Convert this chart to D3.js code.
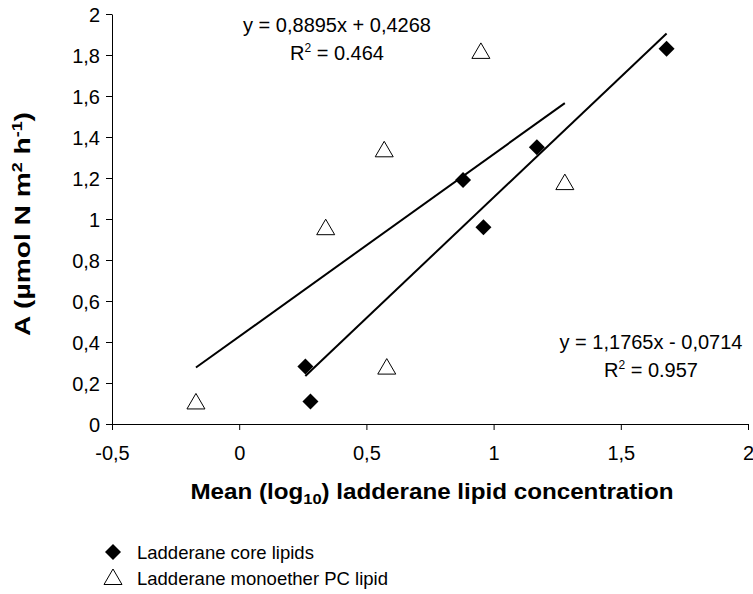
<!DOCTYPE html>
<html>
<head>
<meta charset="utf-8">
<script src="https://cdn.jsdelivr.net/npm/d3@7"></script>
<style>
  html, body { margin: 0; padding: 0; background: #fff; }
  svg { display: block; font-family: "Liberation Sans", Arial, sans-serif; }
</style>
</head>
<body>
<svg id="chart" width="753" height="594"></svg>
<script>
// Ladderane core lipids: mean log10 concentration vs. A
const coreX = [0.26, 0.28, 0.88, 0.96, 1.17, 1.68];
const coreY = [0.28, 0.11, 1.19, 0.96, 1.35, 1.83];
// Ladderane monoether PC lipid
const pcX = [-0.17, 0.34, 0.57, 0.58, 0.95, 1.28];
const pcY = [0.11, 0.96, 1.34, 0.28, 1.82, 1.18];

// Linear trendline coefficients (slope, intercept) and R²
const coreFit = [1.1765, -0.0714];
const coreR2 = "0.957";
const pcFit = [0.8895, 0.4268];
const pcR2 = "0.464";

const xTicks = [-0.5, 0, 0.5, 1, 1.5, 2];
const yTicks = [0, 0.2, 0.4, 0.6, 0.8, 1, 1.2, 1.4, 1.6, 1.8, 2];

const seriesNames = ["Ladderane core lipids", "Ladderane monoether PC lipid"];

const svg = d3.select("#chart");
const x = d3.scaleLinear().domain([-0.5, 2]).range([112, 748]);
const y = d3.scaleLinear().domain([0, 2]).range([424, 14]);

const locale = d3.formatLocale({ decimal: ",", thousands: ".", grouping: [3], currency: ["", ""], minus: "-" });
const fmt = locale.format("~g");
const fmtCoef = v => locale.format(".4f")(Math.abs(v));

// Axes
const xAxis = svg.append("g")
  .attr("transform", `translate(0,${y(0)})`)
  .call(d3.axisBottom(x).tickValues(xTicks).tickFormat(fmt).tickSize(6).tickSizeOuter(0));
const yAxis = svg.append("g")
  .attr("transform", `translate(${x(-0.5)},0)`)
  .call(d3.axisLeft(y).tickValues(yTicks).tickFormat(fmt).tickSize(6).tickSizeOuter(0));

[xAxis, yAxis].forEach(g => {
  g.select(".domain").attr("stroke", "#000").attr("stroke-width", 1);
  g.selectAll(".tick line").attr("stroke", "#000");
  g.selectAll(".tick text")
    .attr("fill", "#000")
    .style("font-size", "20px")
    .style("font-family", "'Liberation Sans', Arial, sans-serif");
});
xAxis.selectAll(".tick text").attr("y", 36).attr("dy", null);
yAxis.selectAll(".tick text").attr("x", -12).attr("dy", "0.35em");

// Trendlines across each series' x range
function trend(xs, fit) {
  const [x0, x1] = d3.extent(xs);
  return [[x0, fit[0] * x0 + fit[1]], [x1, fit[0] * x1 + fit[1]]];
}
const line = d3.line().x(d => x(d[0])).y(d => y(d[1]));
svg.append("path").datum(trend(pcX, pcFit))
  .attr("d", line).attr("fill", "none").attr("stroke", "#000").attr("stroke-width", 2);
svg.append("path").datum(trend(coreX, coreFit))
  .attr("d", line).attr("fill", "none").attr("stroke", "#000").attr("stroke-width", 2);

// Marker shapes
const diamondPath = "M0,-8L8,0L0,8L-8,0Z";
const trianglePath = "M0,-8L9,7.5L-9,7.5Z";

svg.append("g").selectAll("path")
  .data(d3.zip(pcX, pcY))
  .join("path")
  .attr("d", trianglePath)
  .attr("transform", d => `translate(${x(d[0])},${y(d[1])})`)
  .attr("fill", "#fff").attr("stroke", "#000").attr("stroke-width", 1);

svg.append("g").selectAll("path")
  .data(d3.zip(coreX, coreY))
  .join("path")
  .attr("d", diamondPath)
  .attr("transform", d => `translate(${x(d[0])},${y(d[1])})`)
  .attr("fill", "#000");

// Trendline equations
function equation(fit, r2, cx, by) {
  const sign = fit[1] < 0 ? " - " : " + ";
  const g = svg.append("g").style("font-size", "20px").attr("fill", "#000");
  g.append("text").attr("x", cx).attr("y", by).attr("text-anchor", "middle")
    .text(`y = ${fmtCoef(fit[0])}x${sign}${fmtCoef(fit[1])}`);
  const t = g.append("text").attr("x", cx).attr("y", by + 28).attr("text-anchor", "middle");
  t.append("tspan").text("R");
  t.append("tspan").attr("dy", -8).style("font-size", "12px").text("2");
  t.append("tspan").attr("dy", 8).text(` = ${r2}`);
}
equation(pcFit, pcR2, 337, 32);
equation(coreFit, coreR2, 651, 349);

// Axis titles
const xt = svg.append("text")
  .attr("transform", "translate(432,499) scale(1.1,1)")
  .attr("text-anchor", "middle")
  .style("font-size", "22px").style("font-weight", "bold").attr("fill", "#000");
xt.append("tspan").text("Mean (log");
xt.append("tspan").attr("dy", 5).style("font-size", "15px").text("10");
xt.append("tspan").attr("dy", -5).text(") ladderane lipid concentration");

const yt = svg.append("text")
  .attr("transform", "translate(30,224) rotate(-90) scale(1.28,1)")
  .attr("text-anchor", "middle")
  .style("font-size", "22px").style("font-weight", "bold").attr("fill", "#000");
yt.append("tspan").text("A (µmol N m");
yt.append("tspan").attr("dy", -8).style("font-size", "14px").text("2");
yt.append("tspan").attr("dy", 8).text(" h");
yt.append("tspan").attr("dy", -8).style("font-size", "14px").text("-1");
yt.append("tspan").attr("dy", 8).text(")");

// Legend
const legend = svg.append("g").style("font-size", "18.5px").attr("fill", "#000");
legend.append("path").attr("d", diamondPath).attr("transform", "translate(113,552)").attr("fill", "#000");
legend.append("text").attr("x", 137).attr("y", 559).text(seriesNames[0]);
legend.append("path").attr("d", trianglePath).attr("transform", "translate(113,577)")
  .attr("fill", "#fff").attr("stroke", "#000").attr("stroke-width", 1);
legend.append("text").attr("x", 137).attr("y", 585).text(seriesNames[1]);
</script>
</body>
</html>
